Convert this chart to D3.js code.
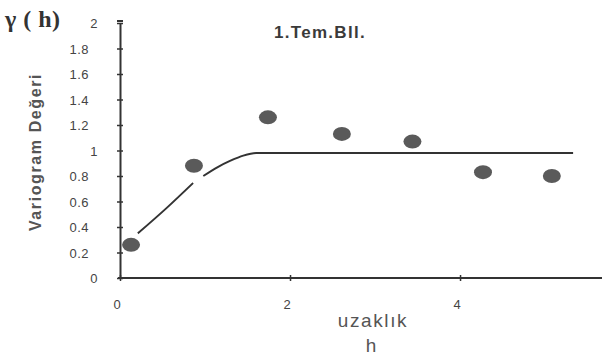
<!DOCTYPE html>
<html>
<head>
<meta charset="utf-8">
<script src="https://cdn.jsdelivr.net/npm/d3@7"></script>
<style>
	body { margin: 0; background: #fff; }
	svg { display: block; }
	text { fill: #444; font-family: "Liberation Sans", Arial, sans-serif; }
</style>
</head>
<body>
<svg id="chart" width="602" height="362"></svg>
<script>
// observed variogram points (h, gamma)
var lagH = [0.13, 0.87, 1.74, 2.61, 3.44, 4.27, 5.08];
var lagGamma = [0.26, 0.88, 1.26, 1.13, 1.07, 0.83, 0.80];

// fitted model line (null = gap near a point)
var modelH = [0.21, 0.55, 0.86, null, 0.98, 1.15, 1.30, 1.45, 1.60, 5.33];
var modelGamma = [0.35, 0.55, 0.745, null, 0.80, 0.87, 0.92, 0.96, 0.98, 0.98];

var yTicks = [0, 0.2, 0.4, 0.6, 0.8, 1, 1.2, 1.4, 1.6, 1.8, 2];
var xTicks = [0, 2, 4];

var svg = d3.select("#chart");

var x = d3.scaleLinear().domain([0, 5.67]).range([120, 602]);
var y = d3.scaleLinear().domain([0, 2]).range([278, 23]);

// y axis
var yAxis = svg.append("g")
	.attr("transform", "translate(120,0)")
	.call(d3.axisLeft(y).tickValues(yTicks).tickSize(0).tickFormat(""));
yAxis.select(".domain").attr("stroke", "#333").attr("stroke-width", 2);

yAxis.selectAll(".tick").append("line")
	.attr("x1", -3)
	.attr("x2", 3)
	.attr("stroke", "#333")
	.attr("stroke-width", 1.5);

svg.append("line")
	.attr("x1", 117).attr("x2", 123)
	.attr("y1", y(2) - 2).attr("y2", y(2) - 2)
	.attr("stroke", "#333").attr("stroke-width", 2);

// labels line up on the decimal point, so whole numbers sit further right
svg.selectAll(".ylab")
	.data(yTicks)
	.enter()
	.append("text")
	.attr("class", "ylab")
	.attr("x", function(d) { return Number.isInteger(d) ? 98 : 89; })
	.attr("y", function(d) { return y(d) + 5; })
	.style("text-anchor", "end")
	.style("font-size", "13px")
	.style("letter-spacing", "0.5px")
	.text(function(d) { return d; });

// x axis
var xAxis = svg.append("g")
	.attr("transform", "translate(0,278)")
	.call(d3.axisBottom(x).tickValues(xTicks).tickSize(0).tickFormat(""));
xAxis.select(".domain").attr("stroke", "#333").attr("stroke-width", 2).attr("d", "M118,0H602");

xAxis.selectAll(".tick").append("line")
	.attr("y1", -3)
	.attr("y2", 3)
	.attr("stroke", "#333")
	.attr("stroke-width", 1.5);

svg.selectAll(".xlab")
	.data(xTicks)
	.enter()
	.append("text")
	.attr("class", "xlab")
	.attr("x", function(d) { return x(d) - 3; })
	.attr("y", 309)
	.style("text-anchor", "middle")
	.style("font-size", "13px")
	.text(function(d) { return d; });

// model line
var lineData = modelH.map(function(h, i) { return [h, modelGamma[i]]; });
svg.append("path")
	.datum(lineData)
	.attr("fill", "none")
	.attr("stroke", "#333")
	.attr("stroke-width", 2)
	.attr("d", d3.line()
		.defined(function(d) { return d[0] !== null; })
		.curve(d3.curveMonotoneX)
		.x(function(d) { return x(d[0]); })
		.y(function(d) { return y(d[1]); }));

// points
svg.selectAll(".pt")
	.data(lagH)
	.enter()
	.append("ellipse")
	.attr("class", "pt")
	.attr("cx", function(d) { return x(d); })
	.attr("cy", function(d, i) { return y(lagGamma[i]); })
	.attr("rx", 9)
	.attr("ry", 7)
	.attr("fill", "#5a5a5a");

// labels
svg.append("text")
	.attr("x", 320)
	.attr("y", 38)
	.style("text-anchor", "middle")
	.style("font-size", "17px")
	.style("font-weight", "bold")
	.style("letter-spacing", "1.3px")
	.style("fill", "#3a3a3a")
	.text("1.Tem.Bll.");

svg.append("text")
	.attr("x", 5)
	.attr("y", 27)
	.style("font-family", "'Liberation Serif', 'DejaVu Serif', serif")
	.style("font-size", "24px")
	.style("font-weight", "bold")
	.style("letter-spacing", "0.5px")
	.style("fill", "#333")
	.text("γ ( h)");

svg.append("text")
	.attr("transform", "translate(41,152) rotate(-90)")
	.style("text-anchor", "middle")
	.style("font-size", "16px")
	.style("font-weight", "bold")
	.style("letter-spacing", "1.6px")
	.style("fill", "#555")
	.text("Variogram Değeri");

svg.append("text")
	.attr("x", 373)
	.attr("y", 327)
	.style("text-anchor", "middle")
	.style("font-size", "19px")
	.style("letter-spacing", "1.6px")
	.style("fill", "#555")
	.text("uzaklık");

svg.append("text")
	.attr("x", 371)
	.attr("y", 352)
	.style("text-anchor", "middle")
	.style("font-size", "19px")
	.style("fill", "#555")
	.text("h");
</script>
</body>
</html>
